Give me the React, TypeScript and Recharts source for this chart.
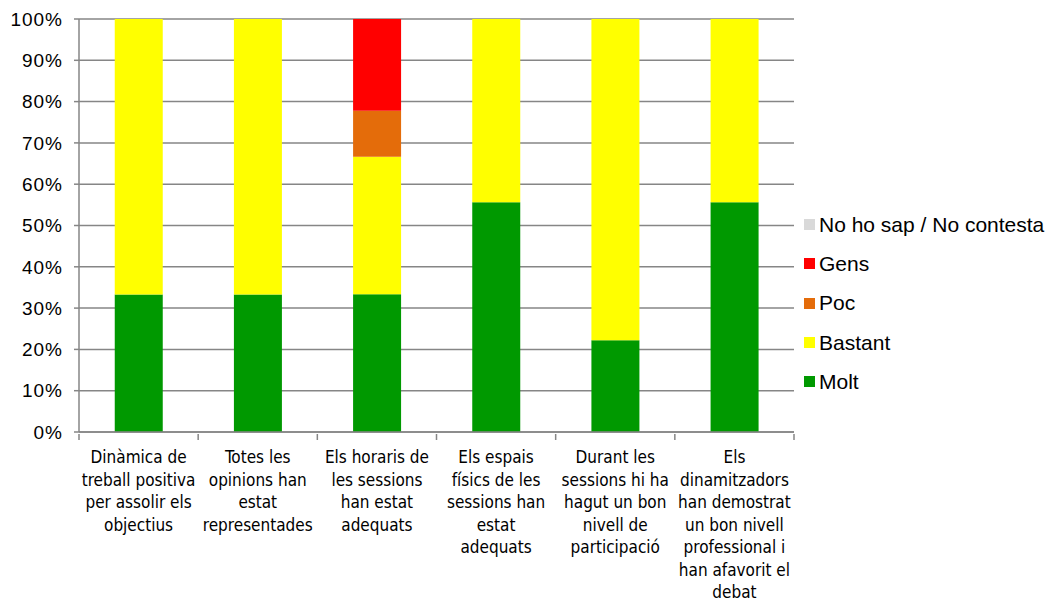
import { BarChart, Bar, XAxis, YAxis, CartesianGrid, Legend } from "recharts";

const categories = [
  "Dinàmica de\ntreball positiva\nper assolir els\nobjectius",
  "Totes les\nopinions han\nestat\nrepresentades",
  "Els horaris de\nles sessions\nhan estat\nadequats",
  "Els espais\nfísics de les\nsessions han\nestat\nadequats",
  "Durant les\nsessions hi ha\nhagut un bon\nnivell de\nparticipació",
  "Els\ndinamitzadors\nhan demostrat\nun bon nivell\nprofessional i\nhan afavorit el\ndebat",
];

const molt = [33.3, 33.3, 33.3, 55.6, 22.2, 55.6];
const bastant = [66.7, 66.7, 33.3, 44.4, 77.8, 44.4];
const poc = [0, 0, 11.1, 0, 0, 0];
const gens = [0, 0, 22.2, 0, 0, 0];
const nsnc = [0, 0, 0, 0, 0, 0];

const yTicks = [0, 0.1, 0.2, 0.3, 0.4, 0.5, 0.6, 0.7, 0.8, 0.9, 1];

const series = [
  { key: "nsnc", name: "No ho sap / No contesta", color: "#D9D9D9" },
  { key: "gens", name: "Gens", color: "#FF0000" },
  { key: "poc", name: "Poc", color: "#E46C0A" },
  { key: "bastant", name: "Bastant", color: "#FFFF00" },
  { key: "molt", name: "Molt", color: "#009900" },
];

const data = categories.map((c, i) => ({
  name: c,
  molt: molt[i],
  bastant: bastant[i],
  poc: poc[i],
  gens: gens[i],
  nsnc: nsnc[i],
}));

const AXIS = "#868686";

function CategoryTick(props: any) {
  const { x, y, payload, index, width, visibleTicksCount } = props;
  const band = width / (visibleTicksCount || categories.length);
  const lines = String(payload.value).split("\n");
  const left = x - band / 2;
  const right = x + band / 2;
  return (
    <g>
      <line x1={left} x2={left} y1={y} y2={y + 6} stroke={AXIS} strokeWidth={1.5} />
      {index === categories.length - 1 && (
        <line x1={right} x2={right} y1={y} y2={y + 6} stroke={AXIS} strokeWidth={1.5} />
      )}
      <text
        x={x}
        y={y + 29}
        textAnchor="middle"
        fill="#000"
        fontSize={17}
        fontFamily="'DejaVu Sans Condensed', 'DejaVu Sans', sans-serif"
      >
        {lines.map((l, i) => (
          <tspan key={i} x={x} dy={i === 0 ? 0 : 22.5}>
            {l}
          </tspan>
        ))}
      </text>
    </g>
  );
}

function LegendContent() {
  return (
    <div style={{ paddingLeft: 10 }}>
      {series.map((s) => (
        <div
          key={s.key}
          style={{
            height: 39.3,
            display: "flex",
            alignItems: "center",
            fontFamily: "'Liberation Sans', Arial, sans-serif",
            fontSize: 21,
            color: "#000",
            whiteSpace: "nowrap",
          }}
        >
          <span style={{ width: 11, height: 11, background: s.color, marginRight: 4, flex: "none" }} />
          <span>{s.name}</span>
        </div>
      ))}
    </div>
  );
}

export default function App() {
  return (
    <div style={{ position: "absolute", left: 0, top: 0, background: "#fff" }}>
      <BarChart
        width={1049}
        height={603}
        data={data}
        stackOffset="expand"
        barCategoryGap="30%"
        margin={{ top: 19, right: 10, left: 0, bottom: 0 }}
      >
        <CartesianGrid vertical={false} stroke={AXIS} strokeWidth={1.5} />
        <XAxis
          dataKey="name"
          interval={0}
          height={171}
          tickLine={false}
          tickSize={0}
          axisLine={{ stroke: AXIS, strokeWidth: 1.5 }}
          tick={<CategoryTick />}
        />
        <YAxis
          width={79}
          domain={[0, 1]}
          ticks={yTicks}
          interval={0}
          tickSize={5}
          tickMargin={11}
          tickLine={{ stroke: AXIS, strokeWidth: 1.5 }}
          axisLine={{ stroke: AXIS, strokeWidth: 1.5 }}
          tickFormatter={(v: number) => `${Math.round(v * 100)}%`}
          tick={{ fill: "#000", fontSize: 19, letterSpacing: 1, fontFamily: "'Liberation Sans', Arial, sans-serif" }}
        />
        <Legend
          layout="vertical"
          align="right"
          verticalAlign="middle"
          wrapperStyle={{ width: 245, top: 205 }}
          content={<LegendContent />}
        />
        {[...series].reverse().map((s) => (
          <Bar key={s.key} dataKey={s.key} name={s.name} stackId="a" fill={s.color} isAnimationActive={false} />
        ))}
      </BarChart>
    </div>
  );
}
